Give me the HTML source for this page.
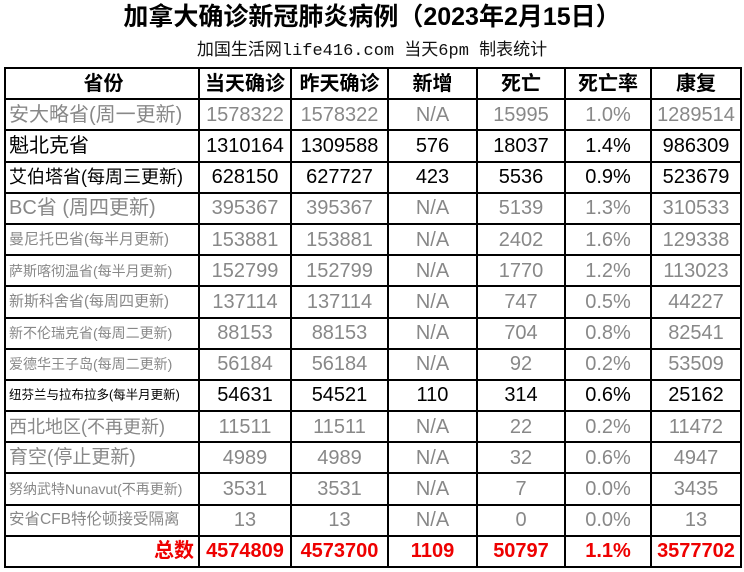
<!DOCTYPE html>
<html><head><meta charset="utf-8"><style>
body{margin:0;width:744px;height:572px;background:#fff;font-family:"Liberation Sans","Noto Sans CJK SC",sans-serif;overflow:hidden}
.t{position:absolute;left:0;width:744px;text-align:center;top:0px;font-size:25px;font-weight:bold;line-height:34px}
.s{position:absolute;left:0;width:744px;text-align:center;top:39px;font-size:17px;line-height:26px;font-family:"Liberation Mono","Noto Sans CJK SC",monospace;color:#111}
table{position:absolute;left:4px;top:67px;border-collapse:collapse;table-layout:fixed}
tr{height:31.2px}
td{border:2px solid #000;padding:0;text-align:center;font-size:20px;line-height:28px;white-space:nowrap;overflow:hidden}
td:first-child{text-align:left;padding-left:3px}
tr.h td{font-weight:bold;font-size:20px;text-align:center}
.g td{color:#888}
.k td{color:#000}
.r td{color:#e00;font-weight:bold}
</style></head><body>
<div class="t">加拿大确诊新冠肺炎病例（2023年2月15日）</div>
<div class="s">加国生活网life416.com 当天6pm 制表统计</div>
<table>
<colgroup><col style="width:194px"><col style="width:92px"><col style="width:97px"><col style="width:89px"><col style="width:88px"><col style="width:86px"><col style="width:90px"></colgroup>
<tr class="h"><td>省份</td><td>当天确诊</td><td>昨天确诊</td><td>新增</td><td>死亡</td><td>死亡率</td><td>康复</td></tr>
<tr class="g"><td>安大略省(周一更新)</td><td>1578322</td><td>1578322</td><td>N/A</td><td>15995</td><td>1.0%</td><td>1289514</td></tr>
<tr class="k"><td>魁北克省</td><td>1310164</td><td>1309588</td><td>576</td><td>18037</td><td>1.4%</td><td>986309</td></tr>
<tr class="k"><td style="font-size:18px">艾伯塔省(每周三更新)</td><td>628150</td><td>627727</td><td>423</td><td>5536</td><td>0.9%</td><td>523679</td></tr>
<tr class="g"><td>BC省 (周四更新)</td><td>395367</td><td>395367</td><td>N/A</td><td>5139</td><td>1.3%</td><td>310533</td></tr>
<tr class="g"><td style="font-size:15px">曼尼托巴省(每半月更新)</td><td>153881</td><td>153881</td><td>N/A</td><td>2402</td><td>1.6%</td><td>129338</td></tr>
<tr class="g"><td style="font-size:14px">萨斯喀彻温省(每半月更新)</td><td>152799</td><td>152799</td><td>N/A</td><td>1770</td><td>1.2%</td><td>113023</td></tr>
<tr class="g"><td style="font-size:15px">新斯科舍省(每周四更新)</td><td>137114</td><td>137114</td><td>N/A</td><td>747</td><td>0.5%</td><td>44227</td></tr>
<tr class="g"><td style="font-size:14px">新不伦瑞克省(每周二更新)</td><td>88153</td><td>88153</td><td>N/A</td><td>704</td><td>0.8%</td><td>82541</td></tr>
<tr class="g"><td style="font-size:14px">爱德华王子岛(每周二更新)</td><td>56184</td><td>56184</td><td>N/A</td><td>92</td><td>0.2%</td><td>53509</td></tr>
<tr class="k"><td style="font-size:12.5px">纽芬兰与拉布拉多(每半月更新)</td><td>54631</td><td>54521</td><td>110</td><td>314</td><td>0.6%</td><td>25162</td></tr>
<tr class="g"><td style="font-size:18px">西北地区(不再更新)</td><td>11511</td><td>11511</td><td>N/A</td><td>22</td><td>0.2%</td><td>11472</td></tr>
<tr class="g"><td style="font-size:19px">育空(停止更新)</td><td>4989</td><td>4989</td><td>N/A</td><td>32</td><td>0.6%</td><td>4947</td></tr>
<tr class="g"><td style="font-size:14px">努纳武特Nunavut(不再更新)</td><td>3531</td><td>3531</td><td>N/A</td><td>7</td><td>0.0%</td><td>3435</td></tr>
<tr class="g"><td style="font-size:15.5px">安省CFB特伦顿接受隔离</td><td>13</td><td>13</td><td>N/A</td><td>0</td><td>0.0%</td><td>13</td></tr>
<tr class="r"><td style="text-align:right;padding-right:4px">总数</td><td>4574809</td><td>4573700</td><td>1109</td><td>50797</td><td>1.1%</td><td>3577702</td></tr>
</table>
</body></html>
